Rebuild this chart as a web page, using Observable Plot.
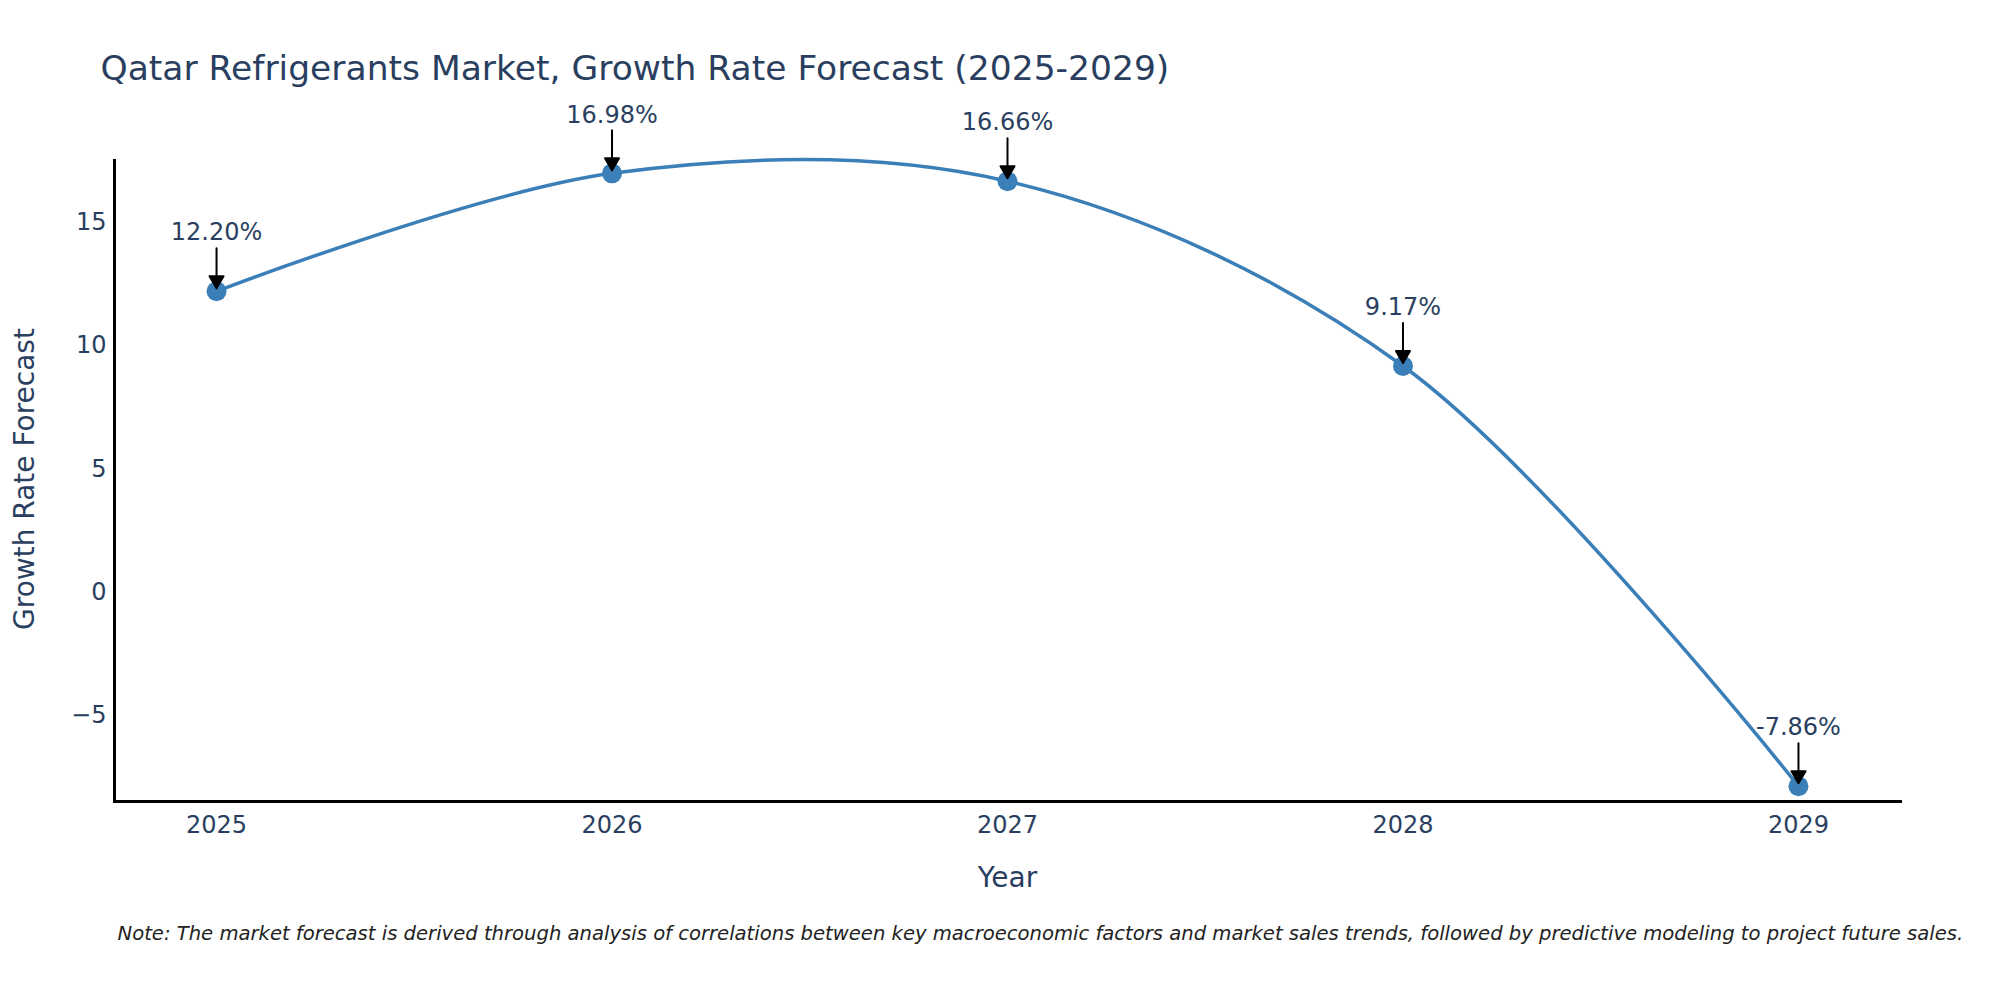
<!DOCTYPE html>
<html>
<head>
<meta charset="utf-8">
<script src="https://cdn.jsdelivr.net/npm/d3@7"></script>
<script src="https://cdn.jsdelivr.net/npm/@observablehq/plot@0.6"></script>
<style>
  html, body { margin: 0; padding: 0; background: #ffffff; overflow: hidden; }
  #chart { width: 2000px; height: 1000px; }
</style>
</head>
<body>
<div id="chart"></div>
<script>
// ---- Data ----
const years = [2025, 2026, 2027, 2028, 2029];
const growth = [12.20, 16.98, 16.66, 9.17, -7.86];
const pointLabels = ["12.20%", "16.98%", "16.66%", "9.17%", "-7.86%"];
const xTicks = [2025, 2026, 2027, 2028, 2029];
const yTicks = [-5, 0, 5, 10, 15];

const titleText = "Qatar Refrigerants Market, Growth Rate Forecast (2025-2029)";
const xTitle = "Year";
const yTitle = "Growth Rate Forecast";
const noteText = "Note: The market forecast is derived through analysis of correlations between key macroeconomic factors and market sales trends, followed by predictive modeling to project future sales.";

const rows = years.map((yr, i) => ({year: yr, value: growth[i], label: pointLabels[i]}));

const textColor = "#2a3f5f";
const lineColor = "#3b7fb8";
const font = "DejaVu Sans";

// custom arrow with filled head (tip at the end of the vector)
const arrowShape = {
  draw(ctx, l) {
    const h = 12, w = 7;
    ctx.moveTo(0, 0);
    ctx.lineTo(0, -l + h);
    ctx.moveTo(0, -l);
    ctx.lineTo(-w, -l + h);
    ctx.lineTo(w, -l + h);
    ctx.closePath();
  }
};

const chart = Plot.plot({
  width: 2000,
  height: 1000,
  marginLeft: 114,
  marginRight: 100,
  marginTop: 160,
  marginBottom: 199,
  style: {fontFamily: font, color: textColor, background: "#ffffff"},
  x: {domain: [2024.742, 2029.258]},
  y: {domain: [-8.48, 17.50]},
  marks: [
    Plot.axisX({ticks: xTicks, tickFormat: d => String(d), tickSize: 0, tickPadding: 14, fontSize: 24, label: null, fill: textColor}),
    Plot.axisY({ticks: yTicks, tickSize: 0, tickPadding: 8, fontSize: 24, label: null, fill: textColor}),
    Plot.frame({anchor: "left", stroke: "black", strokeWidth: 3}),
    Plot.frame({anchor: "bottom", stroke: "black", strokeWidth: 3}),
    Plot.line(rows, {x: "year", y: "value", curve: "catmull-rom", stroke: lineColor, strokeWidth: 3.5}),
    Plot.dot(rows, {x: "year", y: "value", r: 10, fill: lineColor, stroke: "none"}),
    Plot.vector(rows, {x: "year", y: "value", length: 40, rotate: 180, anchor: "end", dy: -3,
      shape: arrowShape, stroke: "black", fill: "black", strokeWidth: 2}),
    Plot.text(rows, {x: "year", y: "value", text: "label", dy: -58.5, fontSize: 24, fill: textColor, lineAnchor: "middle"}),
    Plot.text([titleText], {frameAnchor: "top-left", text: d => d, textAnchor: "start", lineAnchor: "middle",
      dx: -14, dy: -91.5, fontSize: 34.5, fill: textColor}),
    Plot.text([yTitle], {frameAnchor: "left", text: d => d, rotate: -90, textAnchor: "middle", lineAnchor: "middle",
      dx: -89.7, dy: -2, fontSize: 28, fill: textColor}),
    Plot.text([xTitle], {frameAnchor: "bottom", text: d => d, textAnchor: "middle", lineAnchor: "middle",
      dy: 76.3, fontSize: 28, fill: textColor}),
    Plot.text([noteText], {frameAnchor: "bottom-left", text: d => d, textAnchor: "start", lineAnchor: "middle",
      dx: 3, dy: 132.4, fontSize: 19.6, fontStyle: "italic", fill: "#222222"})
  ]
});

document.getElementById("chart").appendChild(chart);
</script>
</body>
</html>
